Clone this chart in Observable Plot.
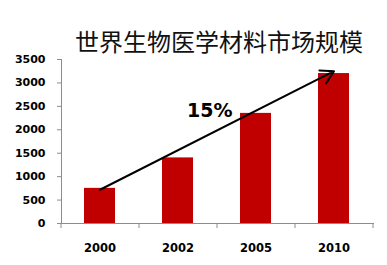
<!DOCTYPE html>
<html>
<head>
<meta charset="utf-8">
<script src="https://cdn.jsdelivr.net/npm/d3@7"></script>
<script src="https://cdn.jsdelivr.net/npm/@observablehq/plot@0.6"></script>
<style>
  html, body { margin: 0; padding: 0; background: #fff; }
  #title {
    box-sizing: border-box; height: 54px; padding-top: 29px; padding-left: 75px;
    font-family: "Noto Sans CJK SC", sans-serif; font-size: 24px; line-height: 24px;
    color: #111; white-space: nowrap;
  }
  #chart svg { overflow: visible; display: block; }
</style>
</head>
<body>
<div id="title">世界生物医学材料市场规模</div>
<div id="chart"></div>
<script>
const years = ["2000", "2002", "2005", "2010"];
const marketSize = [750, 1400, 2350, 3200];
const yTicks = [0, 500, 1000, 1500, 2000, 2500, 3000, 3500];
const growthLabel = ["15%"];
const growthLabelAt = ["2002", 2400];
const arrowFrom = ["2000", 720];
const arrowTo = ["2010", 3250];

const data = years.map((year, i) => ({year, value: marketSize[i]}));

const W = 387, H = 211, mL = 61, mR = 14, mT = 5, mB = 42;
const step = (W - mL - mR) / years.length;
const gray = "#8c8c8c";

const plot = Plot.plot({
  width: W, height: H,
  marginLeft: mL, marginRight: mR, marginTop: mT, marginBottom: mB,
  style: {fontFamily: "DejaVu Sans, sans-serif", fontWeight: "bold", color: "black", background: "transparent"},
  x: {domain: years, paddingInner: 0.6, paddingOuter: 0.3, label: null, axis: null},
  y: {domain: [0, 3500], label: null, axis: null},
  marks: [
    Plot.barY(data, {x: "year", y: "value", fill: "#C00000"}),
    Plot.frame({anchor: "left", stroke: gray}),
    Plot.frame({anchor: "bottom", stroke: gray}),
    Plot.axisY({ticks: yTicks, tickSize: 4, tickPadding: 12, stroke: gray, fill: "black",
      fontSize: 11, fontWeight: "bold", tickFormat: d => String(d), label: null}),
    Plot.axisX({ticks: years, tickSize: 5, fill: "none", stroke: gray, dx: -step / 2, label: null}),
    Plot.axisX({ticks: [years[years.length - 1]], tickSize: 5, fill: "none", stroke: gray, dx: step / 2, label: null}),
    Plot.axisX({ticks: years, tickSize: 0, tickPadding: 20, fill: "black", fontSize: 11.5, fontWeight: "bold", label: null}),
    Plot.arrow([{x1: arrowFrom[0], y1: arrowFrom[1], x2: arrowTo[0], y2: arrowTo[1]}],
      {x1: "x1", y1: "y1", x2: "x2", y2: "y2", stroke: "black", strokeWidth: 2, headLength: 11, bend: 0}),
    Plot.text(growthLabel, {x: () => growthLabelAt[0], y: () => growthLabelAt[1], text: d => d,
      textAnchor: "start", dx: 9, fontSize: 19, fontWeight: "bold", fill: "black"})
  ]
});
document.getElementById("chart").appendChild(plot);
</script>
</body>
</html>
